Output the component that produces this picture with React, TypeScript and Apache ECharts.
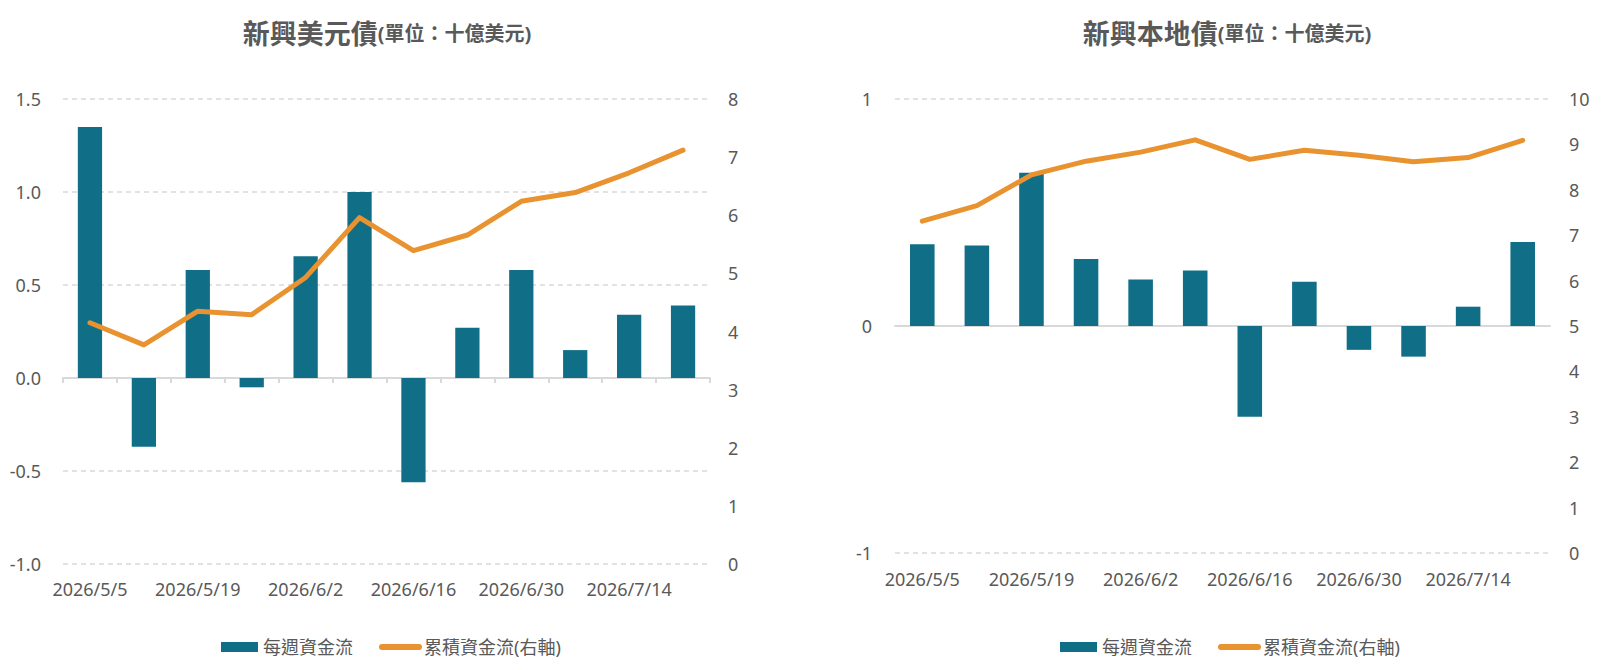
import { useEffect, useRef } from "react";
import * as echarts from "echarts";

const dates = [
  "2026/5/5", "2026/5/12", "2026/5/19", "2026/5/26", "2026/6/2", "2026/6/9",
  "2026/6/16", "2026/6/23", "2026/6/30", "2026/7/7", "2026/7/14", "2026/7/21",
];

// 新興美元債
const usdWeekly = [1.35, -0.37, 0.58, -0.05, 0.655, 1.0, -0.56, 0.27, 0.58, 0.15, 0.34, 0.39];
const usdCumulative = [4.15, 3.77, 4.35, 4.29, 4.93, 5.96, 5.39, 5.66, 6.24, 6.39, 6.73, 7.12];

// 新興本地債
const localWeekly = [0.36, 0.355, 0.675, 0.295, 0.205, 0.245, -0.4, 0.195, -0.105, -0.135, 0.085, 0.37];
const localCumulative = [7.31, 7.65, 8.33, 8.63, 8.83, 9.1, 8.67, 8.87, 8.76, 8.62, 8.71, 9.09];

const titles = ["新興美元債", "新興本地債"];
const unitText = "(單位：十億美元)";
const barName = "每週資金流";
const lineName = "累積資金流(右軸)";

const FONT = "'Noto Sans', 'Noto Sans CJK TC', sans-serif";
const TEXT = "#595959";
const GRID_LINE = "#d9d9d9";
const BAR = "#106e87";
const LINE = "#e8932f";

const App = () => {
  const chartRef = useRef<HTMLDivElement | null>(null);

  useEffect(() => {
    if (!chartRef.current) return;
    const chart = echarts.init(chartRef.current, null, { renderer: "svg" });

    const label = { color: TEXT, fontSize: 18, fontFamily: FONT };
    const dashed = { show: true, lineStyle: { color: GRID_LINE, width: 1.5, type: [5, 4] } };

    const zeroAxis = (gridIndex: number, ticks: boolean) => ({
      type: "category",
      gridIndex,
      data: dates,
      axisLine: { onZero: true, lineStyle: { color: GRID_LINE, width: 2 } },
      axisTick: { show: ticks, length: 5, interval: 0, lineStyle: { color: GRID_LINE, width: 2 } },
      axisLabel: { show: false },
      splitLine: { show: false },
    });
    const dateAxis = (gridIndex: number, margin: number) => ({
      type: "category",
      gridIndex,
      data: dates,
      position: "bottom",
      axisLine: { show: false, onZero: false },
      axisTick: { show: false },
      axisLabel: { ...label, interval: 1, margin },
      splitLine: { show: false },
    });
    const lineSeries = (xAxisIndex: number, yAxisIndex: number, data: number[]) => ({
      name: lineName,
      type: "line",
      xAxisIndex,
      yAxisIndex,
      data,
      symbol: "none",
      lineStyle: { color: LINE, width: 5, cap: "round", join: "round" },
      itemStyle: { color: LINE },
    });
    const barSeries = (xAxisIndex: number, yAxisIndex: number, data: number[]) => ({
      name: barName,
      type: "bar",
      xAxisIndex,
      yAxisIndex,
      data,
      barWidth: "45%",
      itemStyle: { color: BAR },
    });

    const option = {
      animation: false,
      textStyle: { fontFamily: FONT },
      graphic: [387, 1227].map((x, i) => ({
        type: "text",
        x,
        y: 33,
        style: {
          text: `{a|${titles[i]}}{b|${unitText}}`,
          align: "center",
          verticalAlign: "middle",
          rich: {
            a: { fontSize: 27, fontWeight: "bold", fill: TEXT, fontFamily: FONT },
            b: { fontSize: 20, fontWeight: "bold", fill: TEXT, fontFamily: FONT },
          },
        },
      })),
      legend: [221, 1060].map((left) => ({
        left,
        top: 638,
        padding: 0,
        itemWidth: 37,
        itemHeight: 10,
        itemGap: 26,
        textStyle: { color: TEXT, fontSize: 18, fontFamily: FONT },
        data: [
          { name: barName, icon: "rect" },
          {
            name: lineName,
            itemStyle: { color: "transparent", borderWidth: 0, opacity: 0 },
            lineStyle: { width: 6, cap: "round" },
          },
        ],
      })),
      grid: [
        { left: 63, width: 647, top: 99, height: 465 },
        { left: 895, width: 655, top: 99, height: 454 },
      ],
      xAxis: [zeroAxis(0, true), dateAxis(0, 16), zeroAxis(1, false), dateAxis(1, 17)],
      yAxis: [
        {
          type: "value", gridIndex: 0, min: -1, max: 1.5, interval: 0.5,
          axisLine: { show: false }, axisTick: { show: false },
          axisLabel: { ...label, margin: 22, formatter: (v: number) => v.toFixed(1) },
          splitLine: dashed,
        },
        {
          type: "value", gridIndex: 0, min: 0, max: 8, interval: 1, position: "right",
          axisLine: { show: false }, axisTick: { show: false },
          axisLabel: { ...label, margin: 18 }, splitLine: { show: false },
        },
        {
          type: "value", gridIndex: 1, min: -1, max: 1, interval: 1,
          axisLine: { show: false }, axisTick: { show: false },
          axisLabel: { ...label, margin: 23 }, splitLine: dashed,
        },
        {
          type: "value", gridIndex: 1, min: 0, max: 10, interval: 1, position: "right",
          axisLine: { show: false }, axisTick: { show: false },
          axisLabel: { ...label, margin: 19 }, splitLine: { show: false },
        },
      ],
      series: [
        barSeries(0, 0, usdWeekly),
        lineSeries(0, 1, usdCumulative),
        barSeries(2, 2, localWeekly),
        lineSeries(2, 3, localCumulative),
      ],
    };

    chart.setOption(option);
    return () => chart.dispose();
  }, []);

  return (
    <div
      ref={chartRef}
      style={{ position: "fixed", left: 0, top: 0, width: "1612px", height: "670px", background: "#fff" }}
    />
  );
};

export default App;
